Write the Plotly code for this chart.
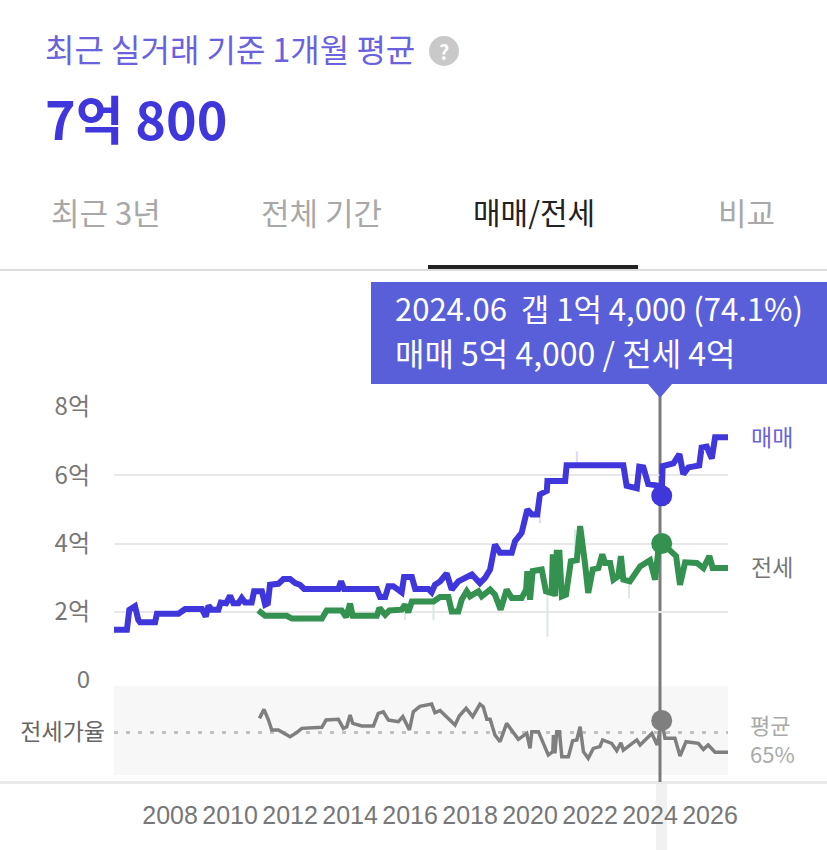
import plotly.graph_objects as go

W = 827
H = 850

# 매매 (unit: 억)
sale_x = [2006.11, 2006.56, 2006.64, 2006.83, 2006.94, 2007.0, 2007.5, 2007.56, 2008.28, 2008.5, 2009.06, 2009.19,
          2009.28, 2009.39, 2009.61, 2009.69, 2009.87, 2010.0, 2010.11, 2010.28, 2010.39, 2010.5, 2010.72, 2010.8,
          2011.06, 2011.17, 2011.26, 2011.33, 2011.61, 2011.78, 2012.0, 2012.17, 2012.33, 2012.47, 2013.61, 2013.7,
          2013.8, 2014.89, 2015.0, 2015.17, 2015.28, 2015.44, 2015.72, 2015.8, 2016.06, 2016.17, 2016.61, 2016.72,
          2016.83, 2017.0, 2017.22, 2017.39, 2017.61, 2018.06, 2018.33, 2018.5, 2018.67, 2018.83, 2019.0, 2019.39,
          2019.5, 2019.72, 2019.91, 2020.06, 2020.24, 2020.33, 2020.56, 2020.58, 2021.17, 2021.22, 2023.11, 2023.22,
          2023.56, 2023.64, 2023.78, 2023.94, 2024.33, 2024.39, 2024.42, 2024.78, 2024.98, 2025.11, 2025.28, 2025.64,
          2025.72, 2025.89, 2026.06, 2026.17, 2026.64]
sale_y = [1.47, 1.47, 2.06, 2.16, 1.76, 1.69, 1.69, 1.94, 1.94, 2.08, 2.08, 1.86,
          2.18, 2.06, 2.06, 2.27, 2.25, 2.47, 2.25, 2.25, 2.40, 2.27, 2.27, 2.60,
          2.60, 2.21, 2.25, 2.79, 2.82, 2.96, 2.96, 2.84, 2.79, 2.67, 2.67, 2.89,
          2.67, 2.67, 2.43, 2.43, 2.75, 2.75, 2.57, 3.02, 3.02, 2.67, 2.67, 2.57,
          2.79, 2.89, 3.12, 2.65, 2.89, 3.09, 2.84, 2.99, 3.24, 3.97, 3.73, 3.73,
          4.07, 4.31, 5.0, 4.85, 4.85, 5.44, 5.54, 5.83, 5.83, 6.29, 6.29, 5.69,
          5.62, 6.25, 6.23, 5.74, 5.69, 5.40, 6.27, 6.35, 6.62, 6.03, 6.23, 6.29,
          6.81, 6.84, 6.49, 7.11, 7.11]

# 전세 (unit: 억)
rent_x = [2010.94, 2011.17, 2011.89, 2012.06, 2013.06, 2013.22, 2013.72, 2013.87, 2014.0, 2014.09, 2014.89, 2014.98,
          2015.17, 2015.31, 2015.72, 2015.83, 2015.94, 2016.06, 2016.78, 2017.0, 2017.28, 2017.39, 2017.61, 2017.72,
          2017.89, 2018.0, 2018.28, 2018.39, 2018.67, 2018.83, 2019.02, 2019.22, 2019.39, 2019.72, 2019.87, 2019.91,
          2020.0, 2020.09, 2020.39, 2020.53, 2020.72, 2020.76, 2020.83, 2020.89, 2020.98, 2021.06, 2021.2, 2021.36,
          2021.56, 2021.67, 2021.83, 2021.94, 2022.09, 2022.28, 2022.41, 2022.5, 2022.67, 2022.78, 2022.94, 2023.03,
          2023.11, 2023.33, 2023.67, 2024.0, 2024.17, 2024.28, 2024.39, 2024.72, 2024.87, 2025.0, 2025.17, 2025.56,
          2025.78, 2025.98, 2026.09, 2026.64]
rent_y = [2.04, 1.88, 1.88, 1.80, 1.80, 2.04, 2.04, 1.84, 2.24, 1.88, 1.88, 2.11,
          1.91, 2.04, 2.06, 2.21, 1.98, 2.30, 2.30, 2.43, 2.43, 2.01, 2.01, 2.35,
          2.60, 2.45, 2.60, 2.45, 2.65, 2.50, 2.06, 2.65, 2.40, 2.40, 2.65, 3.19,
          2.35, 3.19, 3.24, 2.60, 2.55, 3.68, 2.45, 3.73, 3.73, 2.45, 2.50, 3.48,
          3.51, 4.51, 3.43, 2.55, 3.24, 3.28, 3.68, 3.43, 3.43, 2.94, 3.04, 3.63,
          2.94, 2.89, 3.33, 3.51, 2.94, 3.82, 4.02, 3.71, 3.63, 2.79, 3.45, 3.43,
          3.28, 3.63, 3.28, 3.28]

# 전세가율 (%)
ratio_x = [2010.98, 2011.13, 2011.28, 2011.39, 2011.61, 2012.0, 2012.22, 2012.39, 2013.06, 2013.2, 2013.61, 2013.78,
           2013.89, 2014.0, 2014.09, 2014.39, 2014.78, 2014.94, 2015.11, 2015.28, 2015.61, 2015.76, 2015.98, 2016.11,
           2016.33, 2016.72, 2016.83, 2017.0, 2017.5, 2017.64, 2017.87, 2018.09, 2018.33, 2018.44, 2018.56, 2018.67,
           2018.83, 2019.0, 2019.22, 2019.61, 2019.89, 2020.0, 2020.06, 2020.28, 2020.61, 2020.76, 2020.78, 2020.83,
           2020.89, 2020.98, 2021.06, 2021.28, 2021.42, 2021.56, 2021.67, 2021.78, 2021.94, 2022.11, 2022.33, 2022.42,
           2022.72, 2022.89, 2023.03, 2023.11, 2023.56, 2023.67, 2024.06, 2024.24, 2024.39, 2024.5, 2024.83, 2025.0,
           2025.2, 2025.61, 2025.78, 2025.94, 2026.17, 2026.64]
ratio_y = [75.8, 83.0, 74.5, 66.6, 66.6, 61.3, 64.5, 67.9, 68.7, 74.5, 75.1, 67.9,
           69.2, 78.5, 71.9, 69.8, 69.8, 79.8, 81.1, 74.5, 73.2, 77.2, 66.6, 81.1,
           85.4, 87.2, 80.3, 82.0, 70.6, 77.7, 83.8, 77.2, 87.2, 85.1, 75.1, 75.1,
           62.6, 57.3, 71.9, 59.2, 63.9, 52.0, 65.3, 65.3, 46.7, 49.4, 62.6, 48.1,
           65.3, 65.3, 45.4, 45.4, 58.1, 58.7, 69.2, 49.4, 44.1, 52.0, 53.4, 58.7,
           56.0, 50.2, 56.5, 50.7, 58.7, 54.7, 63.9, 54.7, 74.1, 60.0, 60.0, 46.0,
           57.3, 56.0, 51.2, 54.7, 48.9, 48.9]

# faint raw-deal spikes behind the smoothed lines
raw_sale_x = [2020.33, 2020.33, None, 2021.56, 2021.56]
raw_sale_y = [4.6, 5.2, None, 6.3, 6.7]
raw_rent_x = [2015.83, 2015.83, None, 2016.78, 2016.78, None, 2020.58, 2020.58, None, 2021.5, 2021.5, None, 2023.3, 2023.3]
raw_rent_y = [1.75, 2.2, None, 1.75, 2.3, None, 1.27, 2.6, None, 3.5, 4.4, None, 2.4, 2.9]

hover_year = 2024.39
hover_sale = 5.4
hover_rent = 4.0
hover_ratio = 74.1
average_ratio = 65

y_ticks = [0, 2, 4, 6, 8]
y_labels = ['0', '2억', '4억', '6억', '8억']
x_ticks = list(range(2008, 2028, 2))

PURPLE = '#3f37dc'
GREEN = '#35914f'
GRAY = '#7f7f7f'
FONT = 'Noto Sans CJK KR'


def px(x):
    return x / W


def py(y):
    return 1 - y / H


def label(text, x, y, size, color, anchor='left', bold=False):
    if bold:
        text = f'<b>{text}</b>'
    # annotations sit a little right of and below the anchor, pull them back
    if anchor == 'left':
        x -= 3
    return dict(text=text, x=px(x), y=py(y - 2), xref='paper', yref='paper', xanchor=anchor, yanchor='middle',
                align=anchor, showarrow=False, font=dict(family=FONT, size=size, color=color))


def box(x0, y0, x1, y1, color, layer='above'):
    return dict(type='rect', xref='paper', yref='paper', x0=px(x0), x1=px(x1), y0=py(y0), y1=py(y1),
                fillcolor=color, line_width=0, layer=layer)


fig = go.Figure()
fig.add_trace(go.Scatter(x=raw_sale_x, y=raw_sale_y, mode='lines', line=dict(color='#dcdaf8', width=2), cliponaxis=False))
fig.add_trace(go.Scatter(x=raw_rent_x, y=raw_rent_y, mode='lines', line=dict(color='#d8ebde', width=2), cliponaxis=False))
fig.add_trace(go.Scatter(x=sale_x, y=sale_y, mode='lines', line=dict(color=PURPLE, width=6), cliponaxis=False))
fig.add_trace(go.Scatter(x=rent_x, y=rent_y, mode='lines', line=dict(color=GREEN, width=6), cliponaxis=False))
fig.add_trace(go.Scatter(x=[hover_year], y=[hover_sale], mode='markers', marker=dict(color=PURPLE, size=21), cliponaxis=False))
fig.add_trace(go.Scatter(x=[hover_year], y=[hover_rent], mode='markers', marker=dict(color=GREEN, size=21), cliponaxis=False))
fig.add_trace(go.Scatter(x=ratio_x, y=ratio_y, xaxis='x2', yaxis='y2', mode='lines', line=dict(color=GRAY, width=3.5), cliponaxis=False))
fig.add_trace(go.Scatter(x=[hover_year], y=[hover_ratio], xaxis='x2', yaxis='y2', mode='markers',
                         marker=dict(color=GRAY, size=21), cliponaxis=False))

x_range = [2006.13, 2026.6]
fig.update_layout(
    width=W,
    height=H,
    margin=dict(l=0, r=0, t=0, b=0),
    paper_bgcolor='white',
    plot_bgcolor='rgba(0,0,0,0)',
    showlegend=False,
    hovermode=False,
    font=dict(family=FONT),
    xaxis=dict(domain=[px(114), px(728)], range=x_range, showgrid=False, zeroline=False, showticklabels=False,
               anchor='y', automargin=False),
    yaxis=dict(domain=[py(680), py(407)], range=[0, 8], tickvals=y_ticks, ticktext=y_labels, gridcolor='#e8e8e8',
               gridwidth=2, zeroline=False, ticklabelstandoff=23, tickfont=dict(size=24, color='#777777'),
               anchor='x', automargin=False),
    xaxis2=dict(domain=[px(114), px(728)], range=x_range, showgrid=False, zeroline=False, tickvals=x_ticks,
                ticks='outside', ticklen=18, tickcolor='rgba(0,0,0,0)',
                tickfont=dict(size=25, color='#777777', family='Liberation Sans'), anchor='y2', automargin=False),
    yaxis2=dict(domain=[py(775), py(686)], range=[30.9, 101.5], tickvals=[average_ratio], ticktext=['전세가율'],
                showgrid=True, gridcolor='#c2c2c2', griddash='4px,8px', gridwidth=3, zeroline=False, ticklabelstandoff=8,
                tickfont=dict(size=23, color='#666666'), anchor='x2', automargin=False),
    shapes=[
        box(114, 686, 728, 775, '#f7f7f7', 'below'),
        box(0, 781, W, 784, '#e9e9e9', 'below'),
        box(656, 784, 667, H, '#f1f1f1', 'below'),
        box(0, 269, W, 271, '#dddddd'),
        box(428, 265, 638, 269, '#222222'),
        box(371, 282, W, 384, '#585fd9'),
        dict(type='path', xref='paper', yref='paper', fillcolor='#585fd9', line_width=0,
             path=f'M {px(648)} {py(384)} L {px(672)} {py(384)} L {px(660)} {py(398)} Z'),
        box(658.5, 396, 661.5, 782, '#7a7a7a', 'below'),
        dict(type='circle', xref='paper', yref='paper', x0=px(429), x1=px(459), y0=py(66), y1=py(36),
             fillcolor='#c9c9c9', line_width=0),
    ],
    annotations=[
        label('최근 실거래 기준 1개월 평균', 46, 50, 32, '#6a62dc'),
        label('?', 444, 53, 20, 'white', 'center', True),
        label('7억 800', 46, 119, 52, PURPLE, bold=True),
        label('최근 3년', 52, 213, 31, '#a8a8a8'),
        label('전체 기간', 262, 213, 31, '#a8a8a8'),
        label('매매/전세', 474, 213, 30, '#222222'),
        label('비교', 719, 213, 31, '#a8a8a8'),
        label('2024.06  갭 1억 4,000 (74.1%)', 396, 309, 31, 'white'),
        label('매매 5억 4,000 / 전세 4억', 396, 354, 32, 'white'),
        label('매매', 752, 438, 23, '#6a62dc'),
        label('전세', 752, 568, 23, '#777777'),
        label('평균<br>65%', 751, 740, 22, '#aaaaaa'),
    ],
)

fig.write_html('out.html', config={'displayModeBar': False}, post_script="document.body.style.margin='0';")
